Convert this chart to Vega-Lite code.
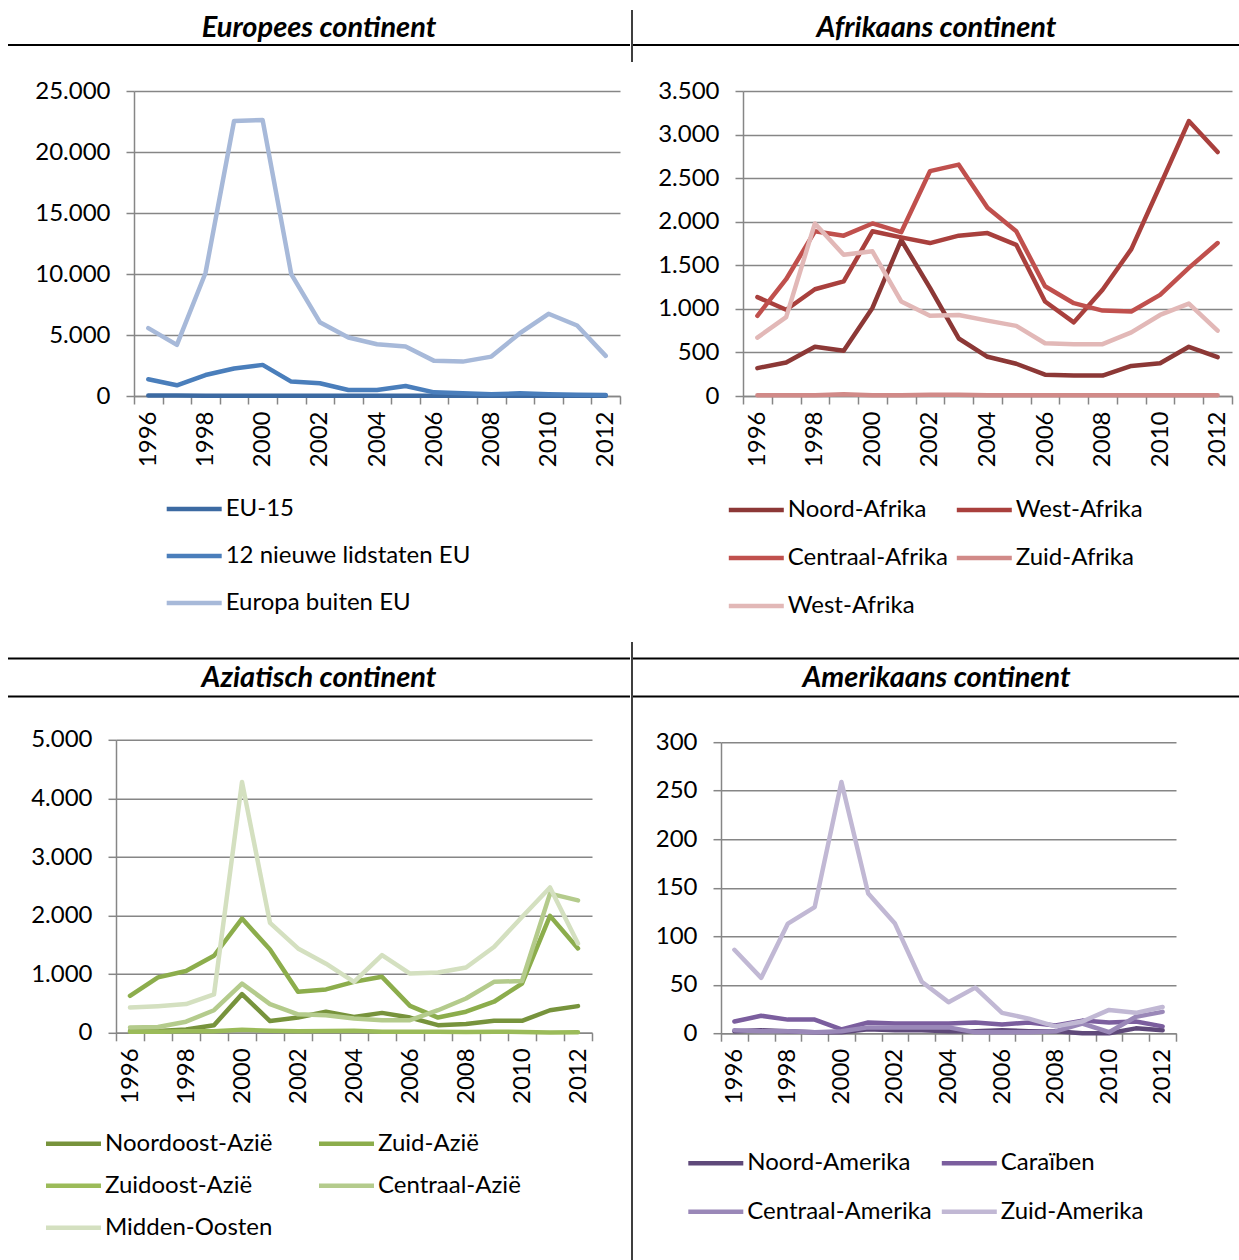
{
  "$schema": "https://vega.github.io/schema/vega-lite/v6.json",
  "padding": {"left": 7, "top": 9, "right": 0, "bottom": 0},
  "config": {
    "view": {"stroke": null},
    "font": "Lato",
    "locale": {"number": {"decimal": ",", "thousands": ".", "grouping": [3], "currency": ["€", ""]}},
    "axis": {"labelFont": "Lato", "labelFontSize": 24, "labelColor": "#000000", "domainColor": "#868686", "domainWidth": 1.5, "tickColor": "#868686", "tickWidth": 1.5, "tickSize": 8, "gridColor": "#868686", "gridWidth": 1.5, "title": null},
    "legend": {"labelFont": "Lato", "labelFontSize": 24, "labelColor": "#000000", "labelLimit": 600, "symbolType": "stroke", "symbolSize": 3025, "symbolStrokeWidth": 5, "labelOffset": 1.5, "padding": 0, "title": null, "direction": "horizontal"},
    "line": {"strokeWidth": 4.5, "strokeCap": "round", "strokeJoin": "round"}
  },
  "datasets": {
    "eu": [
      {"jaar": 1996, "reeks": "EU-15", "waarde": 40}, {"jaar": 1997, "reeks": "EU-15", "waarde": 35}, {"jaar": 1998, "reeks": "EU-15", "waarde": 30}, {"jaar": 1999, "reeks": "EU-15", "waarde": 30}, {"jaar": 2000, "reeks": "EU-15", "waarde": 30}, {"jaar": 2001, "reeks": "EU-15", "waarde": 25}, {"jaar": 2002, "reeks": "EU-15", "waarde": 25}, {"jaar": 2003, "reeks": "EU-15", "waarde": 25}, {"jaar": 2004, "reeks": "EU-15", "waarde": 25}, {"jaar": 2005, "reeks": "EU-15", "waarde": 25}, {"jaar": 2006, "reeks": "EU-15", "waarde": 25}, {"jaar": 2007, "reeks": "EU-15", "waarde": 20}, {"jaar": 2008, "reeks": "EU-15", "waarde": 20}, {"jaar": 2009, "reeks": "EU-15", "waarde": 20}, {"jaar": 2010, "reeks": "EU-15", "waarde": 20}, {"jaar": 2011, "reeks": "EU-15", "waarde": 20}, {"jaar": 2012, "reeks": "EU-15", "waarde": 20},
      {"jaar": 1996, "reeks": "12 nieuwe lidstaten EU", "waarde": 1370}, {"jaar": 1997, "reeks": "12 nieuwe lidstaten EU", "waarde": 880}, {"jaar": 1998, "reeks": "12 nieuwe lidstaten EU", "waarde": 1720}, {"jaar": 1999, "reeks": "12 nieuwe lidstaten EU", "waarde": 2250}, {"jaar": 2000, "reeks": "12 nieuwe lidstaten EU", "waarde": 2550}, {"jaar": 2001, "reeks": "12 nieuwe lidstaten EU", "waarde": 1180}, {"jaar": 2002, "reeks": "12 nieuwe lidstaten EU", "waarde": 1040}, {"jaar": 2003, "reeks": "12 nieuwe lidstaten EU", "waarde": 490}, {"jaar": 2004, "reeks": "12 nieuwe lidstaten EU", "waarde": 490}, {"jaar": 2005, "reeks": "12 nieuwe lidstaten EU", "waarde": 820}, {"jaar": 2006, "reeks": "12 nieuwe lidstaten EU", "waarde": 300}, {"jaar": 2007, "reeks": "12 nieuwe lidstaten EU", "waarde": 220}, {"jaar": 2008, "reeks": "12 nieuwe lidstaten EU", "waarde": 140}, {"jaar": 2009, "reeks": "12 nieuwe lidstaten EU", "waarde": 220}, {"jaar": 2010, "reeks": "12 nieuwe lidstaten EU", "waarde": 140}, {"jaar": 2011, "reeks": "12 nieuwe lidstaten EU", "waarde": 110}, {"jaar": 2012, "reeks": "12 nieuwe lidstaten EU", "waarde": 80},
      {"jaar": 1996, "reeks": "Europa buiten EU", "waarde": 5560}, {"jaar": 1997, "reeks": "Europa buiten EU", "waarde": 4190}, {"jaar": 1998, "reeks": "Europa buiten EU", "waarde": 10080}, {"jaar": 1999, "reeks": "Europa buiten EU", "waarde": 22540}, {"jaar": 2000, "reeks": "Europa buiten EU", "waarde": 22620}, {"jaar": 2001, "reeks": "Europa buiten EU", "waarde": 9990}, {"jaar": 2002, "reeks": "Europa buiten EU", "waarde": 6050}, {"jaar": 2003, "reeks": "Europa buiten EU", "waarde": 4790}, {"jaar": 2004, "reeks": "Europa buiten EU", "waarde": 4240}, {"jaar": 2005, "reeks": "Europa buiten EU", "waarde": 4050}, {"jaar": 2006, "reeks": "Europa buiten EU", "waarde": 2880}, {"jaar": 2007, "reeks": "Europa buiten EU", "waarde": 2820}, {"jaar": 2008, "reeks": "Europa buiten EU", "waarde": 3230}, {"jaar": 2009, "reeks": "Europa buiten EU", "waarde": 5150}, {"jaar": 2010, "reeks": "Europa buiten EU", "waarde": 6740}, {"jaar": 2011, "reeks": "Europa buiten EU", "waarde": 5780}, {"jaar": 2012, "reeks": "Europa buiten EU", "waarde": 3290}
    ],
    "af": [
      {"jaar": 1996, "reeks": "Noord-Afrika", "waarde": 320}, {"jaar": 1997, "reeks": "Noord-Afrika", "waarde": 385}, {"jaar": 1998, "reeks": "Noord-Afrika", "waarde": 565}, {"jaar": 1999, "reeks": "Noord-Afrika", "waarde": 520}, {"jaar": 2000, "reeks": "Noord-Afrika", "waarde": 1010}, {"jaar": 2001, "reeks": "Noord-Afrika", "waarde": 1790}, {"jaar": 2002, "reeks": "Noord-Afrika", "waarde": 1240}, {"jaar": 2003, "reeks": "Noord-Afrika", "waarde": 660}, {"jaar": 2004, "reeks": "Noord-Afrika", "waarde": 450}, {"jaar": 2005, "reeks": "Noord-Afrika", "waarde": 370}, {"jaar": 2006, "reeks": "Noord-Afrika", "waarde": 245}, {"jaar": 2007, "reeks": "Noord-Afrika", "waarde": 235}, {"jaar": 2008, "reeks": "Noord-Afrika", "waarde": 235}, {"jaar": 2009, "reeks": "Noord-Afrika", "waarde": 345}, {"jaar": 2010, "reeks": "Noord-Afrika", "waarde": 375}, {"jaar": 2011, "reeks": "Noord-Afrika", "waarde": 565}, {"jaar": 2012, "reeks": "Noord-Afrika", "waarde": 445},
      {"jaar": 1996, "reeks": "West-Afrika", "waarde": 1135}, {"jaar": 1997, "reeks": "West-Afrika", "waarde": 990}, {"jaar": 1998, "reeks": "West-Afrika", "waarde": 1225}, {"jaar": 1999, "reeks": "West-Afrika", "waarde": 1315}, {"jaar": 2000, "reeks": "West-Afrika", "waarde": 1890}, {"jaar": 2001, "reeks": "West-Afrika", "waarde": 1820}, {"jaar": 2002, "reeks": "West-Afrika", "waarde": 1755}, {"jaar": 2003, "reeks": "West-Afrika", "waarde": 1840}, {"jaar": 2004, "reeks": "West-Afrika", "waarde": 1870}, {"jaar": 2005, "reeks": "West-Afrika", "waarde": 1735}, {"jaar": 2006, "reeks": "West-Afrika", "waarde": 1085}, {"jaar": 2007, "reeks": "West-Afrika", "waarde": 845}, {"jaar": 2008, "reeks": "West-Afrika", "waarde": 1220}, {"jaar": 2009, "reeks": "West-Afrika", "waarde": 1685}, {"jaar": 2010, "reeks": "West-Afrika", "waarde": 2415}, {"jaar": 2011, "reeks": "West-Afrika", "waarde": 3155}, {"jaar": 2012, "reeks": "West-Afrika", "waarde": 2800},
      {"jaar": 1996, "reeks": "Centraal-Afrika", "waarde": 920}, {"jaar": 1997, "reeks": "Centraal-Afrika", "waarde": 1340}, {"jaar": 1998, "reeks": "Centraal-Afrika", "waarde": 1890}, {"jaar": 1999, "reeks": "Centraal-Afrika", "waarde": 1840}, {"jaar": 2000, "reeks": "Centraal-Afrika", "waarde": 1980}, {"jaar": 2001, "reeks": "Centraal-Afrika", "waarde": 1880}, {"jaar": 2002, "reeks": "Centraal-Afrika", "waarde": 2580}, {"jaar": 2003, "reeks": "Centraal-Afrika", "waarde": 2655}, {"jaar": 2004, "reeks": "Centraal-Afrika", "waarde": 2160}, {"jaar": 2005, "reeks": "Centraal-Afrika", "waarde": 1890}, {"jaar": 2006, "reeks": "Centraal-Afrika", "waarde": 1260}, {"jaar": 2007, "reeks": "Centraal-Afrika", "waarde": 1065}, {"jaar": 2008, "reeks": "Centraal-Afrika", "waarde": 980}, {"jaar": 2009, "reeks": "Centraal-Afrika", "waarde": 970}, {"jaar": 2010, "reeks": "Centraal-Afrika", "waarde": 1160}, {"jaar": 2011, "reeks": "Centraal-Afrika", "waarde": 1470}, {"jaar": 2012, "reeks": "Centraal-Afrika", "waarde": 1755},
      {"jaar": 1996, "reeks": "Zuid-Afrika", "waarde": 10}, {"jaar": 1997, "reeks": "Zuid-Afrika", "waarde": 10}, {"jaar": 1998, "reeks": "Zuid-Afrika", "waarde": 10}, {"jaar": 1999, "reeks": "Zuid-Afrika", "waarde": 20}, {"jaar": 2000, "reeks": "Zuid-Afrika", "waarde": 10}, {"jaar": 2001, "reeks": "Zuid-Afrika", "waarde": 10}, {"jaar": 2002, "reeks": "Zuid-Afrika", "waarde": 15}, {"jaar": 2003, "reeks": "Zuid-Afrika", "waarde": 15}, {"jaar": 2004, "reeks": "Zuid-Afrika", "waarde": 10}, {"jaar": 2005, "reeks": "Zuid-Afrika", "waarde": 10}, {"jaar": 2006, "reeks": "Zuid-Afrika", "waarde": 10}, {"jaar": 2007, "reeks": "Zuid-Afrika", "waarde": 10}, {"jaar": 2008, "reeks": "Zuid-Afrika", "waarde": 10}, {"jaar": 2009, "reeks": "Zuid-Afrika", "waarde": 10}, {"jaar": 2010, "reeks": "Zuid-Afrika", "waarde": 10}, {"jaar": 2011, "reeks": "Zuid-Afrika", "waarde": 10}, {"jaar": 2012, "reeks": "Zuid-Afrika", "waarde": 10},
      {"jaar": 1996, "reeks": "West-Afrika (2)", "waarde": 670}, {"jaar": 1997, "reeks": "West-Afrika (2)", "waarde": 905}, {"jaar": 1998, "reeks": "West-Afrika (2)", "waarde": 1980}, {"jaar": 1999, "reeks": "West-Afrika (2)", "waarde": 1620}, {"jaar": 2000, "reeks": "West-Afrika (2)", "waarde": 1660}, {"jaar": 2001, "reeks": "West-Afrika (2)", "waarde": 1085}, {"jaar": 2002, "reeks": "West-Afrika (2)", "waarde": 920}, {"jaar": 2003, "reeks": "West-Afrika (2)", "waarde": 930}, {"jaar": 2004, "reeks": "West-Afrika (2)", "waarde": 865}, {"jaar": 2005, "reeks": "West-Afrika (2)", "waarde": 805}, {"jaar": 2006, "reeks": "West-Afrika (2)", "waarde": 605}, {"jaar": 2007, "reeks": "West-Afrika (2)", "waarde": 595}, {"jaar": 2008, "reeks": "West-Afrika (2)", "waarde": 595}, {"jaar": 2009, "reeks": "West-Afrika (2)", "waarde": 730}, {"jaar": 2010, "reeks": "West-Afrika (2)", "waarde": 930}, {"jaar": 2011, "reeks": "West-Afrika (2)", "waarde": 1060}, {"jaar": 2012, "reeks": "West-Afrika (2)", "waarde": 750}
    ],
    "as": [
      {"jaar": 1996, "reeks": "Noordoost-Azië", "waarde": 30}, {"jaar": 1997, "reeks": "Noordoost-Azië", "waarde": 30}, {"jaar": 1998, "reeks": "Noordoost-Azië", "waarde": 55}, {"jaar": 1999, "reeks": "Noordoost-Azië", "waarde": 130}, {"jaar": 2000, "reeks": "Noordoost-Azië", "waarde": 660}, {"jaar": 2001, "reeks": "Noordoost-Azië", "waarde": 200}, {"jaar": 2002, "reeks": "Noordoost-Azië", "waarde": 260}, {"jaar": 2003, "reeks": "Noordoost-Azië", "waarde": 360}, {"jaar": 2004, "reeks": "Noordoost-Azië", "waarde": 270}, {"jaar": 2005, "reeks": "Noordoost-Azië", "waarde": 340}, {"jaar": 2006, "reeks": "Noordoost-Azië", "waarde": 260}, {"jaar": 2007, "reeks": "Noordoost-Azië", "waarde": 130}, {"jaar": 2008, "reeks": "Noordoost-Azië", "waarde": 150}, {"jaar": 2009, "reeks": "Noordoost-Azië", "waarde": 205}, {"jaar": 2010, "reeks": "Noordoost-Azië", "waarde": 205}, {"jaar": 2011, "reeks": "Noordoost-Azië", "waarde": 385}, {"jaar": 2012, "reeks": "Noordoost-Azië", "waarde": 455},
      {"jaar": 1996, "reeks": "Zuid-Azië", "waarde": 630}, {"jaar": 1997, "reeks": "Zuid-Azië", "waarde": 945}, {"jaar": 1998, "reeks": "Zuid-Azië", "waarde": 1055}, {"jaar": 1999, "reeks": "Zuid-Azië", "waarde": 1315}, {"jaar": 2000, "reeks": "Zuid-Azië", "waarde": 1950}, {"jaar": 2001, "reeks": "Zuid-Azië", "waarde": 1420}, {"jaar": 2002, "reeks": "Zuid-Azië", "waarde": 700}, {"jaar": 2003, "reeks": "Zuid-Azië", "waarde": 740}, {"jaar": 2004, "reeks": "Zuid-Azië", "waarde": 870}, {"jaar": 2005, "reeks": "Zuid-Azië", "waarde": 955}, {"jaar": 2006, "reeks": "Zuid-Azië", "waarde": 460}, {"jaar": 2007, "reeks": "Zuid-Azië", "waarde": 260}, {"jaar": 2008, "reeks": "Zuid-Azië", "waarde": 360}, {"jaar": 2009, "reeks": "Zuid-Azië", "waarde": 530}, {"jaar": 2010, "reeks": "Zuid-Azië", "waarde": 840}, {"jaar": 2011, "reeks": "Zuid-Azië", "waarde": 1995}, {"jaar": 2012, "reeks": "Zuid-Azië", "waarde": 1440},
      {"jaar": 1996, "reeks": "Zuidoost-Azië", "waarde": 20}, {"jaar": 1997, "reeks": "Zuidoost-Azië", "waarde": 20}, {"jaar": 1998, "reeks": "Zuidoost-Azië", "waarde": 25}, {"jaar": 1999, "reeks": "Zuidoost-Azië", "waarde": 25}, {"jaar": 2000, "reeks": "Zuidoost-Azië", "waarde": 50}, {"jaar": 2001, "reeks": "Zuidoost-Azië", "waarde": 35}, {"jaar": 2002, "reeks": "Zuidoost-Azië", "waarde": 25}, {"jaar": 2003, "reeks": "Zuidoost-Azië", "waarde": 30}, {"jaar": 2004, "reeks": "Zuidoost-Azië", "waarde": 35}, {"jaar": 2005, "reeks": "Zuidoost-Azië", "waarde": 20}, {"jaar": 2006, "reeks": "Zuidoost-Azië", "waarde": 20}, {"jaar": 2007, "reeks": "Zuidoost-Azië", "waarde": 20}, {"jaar": 2008, "reeks": "Zuidoost-Azië", "waarde": 15}, {"jaar": 2009, "reeks": "Zuidoost-Azië", "waarde": 20}, {"jaar": 2010, "reeks": "Zuidoost-Azië", "waarde": 15}, {"jaar": 2011, "reeks": "Zuidoost-Azië", "waarde": 5}, {"jaar": 2012, "reeks": "Zuidoost-Azië", "waarde": 10},
      {"jaar": 1996, "reeks": "Centraal-Azië", "waarde": 90}, {"jaar": 1997, "reeks": "Centraal-Azië", "waarde": 100}, {"jaar": 1998, "reeks": "Centraal-Azië", "waarde": 190}, {"jaar": 1999, "reeks": "Centraal-Azië", "waarde": 385}, {"jaar": 2000, "reeks": "Centraal-Azië", "waarde": 840}, {"jaar": 2001, "reeks": "Centraal-Azië", "waarde": 490}, {"jaar": 2002, "reeks": "Centraal-Azië", "waarde": 315}, {"jaar": 2003, "reeks": "Centraal-Azië", "waarde": 300}, {"jaar": 2004, "reeks": "Centraal-Azië", "waarde": 245}, {"jaar": 2005, "reeks": "Centraal-Azië", "waarde": 215}, {"jaar": 2006, "reeks": "Centraal-Azië", "waarde": 215}, {"jaar": 2007, "reeks": "Centraal-Azië", "waarde": 385}, {"jaar": 2008, "reeks": "Centraal-Azië", "waarde": 585}, {"jaar": 2009, "reeks": "Centraal-Azië", "waarde": 870}, {"jaar": 2010, "reeks": "Centraal-Azië", "waarde": 885}, {"jaar": 2011, "reeks": "Centraal-Azië", "waarde": 2375}, {"jaar": 2012, "reeks": "Centraal-Azië", "waarde": 2260},
      {"jaar": 1996, "reeks": "Midden-Oosten", "waarde": 430}, {"jaar": 1997, "reeks": "Midden-Oosten", "waarde": 455}, {"jaar": 1998, "reeks": "Midden-Oosten", "waarde": 490}, {"jaar": 1999, "reeks": "Midden-Oosten", "waarde": 655}, {"jaar": 2000, "reeks": "Midden-Oosten", "waarde": 4280}, {"jaar": 2001, "reeks": "Midden-Oosten", "waarde": 1875}, {"jaar": 2002, "reeks": "Midden-Oosten", "waarde": 1440}, {"jaar": 2003, "reeks": "Midden-Oosten", "waarde": 1180}, {"jaar": 2004, "reeks": "Midden-Oosten", "waarde": 870}, {"jaar": 2005, "reeks": "Midden-Oosten", "waarde": 1325}, {"jaar": 2006, "reeks": "Midden-Oosten", "waarde": 1010}, {"jaar": 2007, "reeks": "Midden-Oosten", "waarde": 1030}, {"jaar": 2008, "reeks": "Midden-Oosten", "waarde": 1115}, {"jaar": 2009, "reeks": "Midden-Oosten", "waarde": 1465}, {"jaar": 2010, "reeks": "Midden-Oosten", "waarde": 1975}, {"jaar": 2011, "reeks": "Midden-Oosten", "waarde": 2480}, {"jaar": 2012, "reeks": "Midden-Oosten", "waarde": 1525}
    ],
    "am": [
      {"jaar": 1996, "reeks": "Noord-Amerika", "waarde": 2}, {"jaar": 1997, "reeks": "Noord-Amerika", "waarde": 3}, {"jaar": 1998, "reeks": "Noord-Amerika", "waarde": 2}, {"jaar": 1999, "reeks": "Noord-Amerika", "waarde": 1}, {"jaar": 2000, "reeks": "Noord-Amerika", "waarde": 1}, {"jaar": 2001, "reeks": "Noord-Amerika", "waarde": 4}, {"jaar": 2002, "reeks": "Noord-Amerika", "waarde": 3}, {"jaar": 2003, "reeks": "Noord-Amerika", "waarde": 3}, {"jaar": 2004, "reeks": "Noord-Amerika", "waarde": 2}, {"jaar": 2005, "reeks": "Noord-Amerika", "waarde": 2}, {"jaar": 2006, "reeks": "Noord-Amerika", "waarde": 3}, {"jaar": 2007, "reeks": "Noord-Amerika", "waarde": 2}, {"jaar": 2008, "reeks": "Noord-Amerika", "waarde": 2}, {"jaar": 2009, "reeks": "Noord-Amerika", "waarde": 0}, {"jaar": 2010, "reeks": "Noord-Amerika", "waarde": 0}, {"jaar": 2011, "reeks": "Noord-Amerika", "waarde": 5}, {"jaar": 2012, "reeks": "Noord-Amerika", "waarde": 3},
      {"jaar": 1996, "reeks": "Caraïben", "waarde": 12}, {"jaar": 1997, "reeks": "Caraïben", "waarde": 18}, {"jaar": 1998, "reeks": "Caraïben", "waarde": 14}, {"jaar": 1999, "reeks": "Caraïben", "waarde": 14}, {"jaar": 2000, "reeks": "Caraïben", "waarde": 4}, {"jaar": 2001, "reeks": "Caraïben", "waarde": 11}, {"jaar": 2002, "reeks": "Caraïben", "waarde": 10}, {"jaar": 2003, "reeks": "Caraïben", "waarde": 10}, {"jaar": 2004, "reeks": "Caraïben", "waarde": 10}, {"jaar": 2005, "reeks": "Caraïben", "waarde": 11}, {"jaar": 2006, "reeks": "Caraïben", "waarde": 9}, {"jaar": 2007, "reeks": "Caraïben", "waarde": 11}, {"jaar": 2008, "reeks": "Caraïben", "waarde": 8}, {"jaar": 2009, "reeks": "Caraïben", "waarde": 13}, {"jaar": 2010, "reeks": "Caraïben", "waarde": 11}, {"jaar": 2011, "reeks": "Caraïben", "waarde": 12}, {"jaar": 2012, "reeks": "Caraïben", "waarde": 7},
      {"jaar": 1996, "reeks": "Centraal-Amerika", "waarde": 3}, {"jaar": 1997, "reeks": "Centraal-Amerika", "waarde": 2}, {"jaar": 1998, "reeks": "Centraal-Amerika", "waarde": 2}, {"jaar": 1999, "reeks": "Centraal-Amerika", "waarde": 1}, {"jaar": 2000, "reeks": "Centraal-Amerika", "waarde": 2}, {"jaar": 2001, "reeks": "Centraal-Amerika", "waarde": 6}, {"jaar": 2002, "reeks": "Centraal-Amerika", "waarde": 6}, {"jaar": 2003, "reeks": "Centraal-Amerika", "waarde": 6}, {"jaar": 2004, "reeks": "Centraal-Amerika", "waarde": 6}, {"jaar": 2005, "reeks": "Centraal-Amerika", "waarde": 1}, {"jaar": 2006, "reeks": "Centraal-Amerika", "waarde": 1}, {"jaar": 2007, "reeks": "Centraal-Amerika", "waarde": 1}, {"jaar": 2008, "reeks": "Centraal-Amerika", "waarde": 2}, {"jaar": 2009, "reeks": "Centraal-Amerika", "waarde": 10}, {"jaar": 2010, "reeks": "Centraal-Amerika", "waarde": 1}, {"jaar": 2011, "reeks": "Centraal-Amerika", "waarde": 17}, {"jaar": 2012, "reeks": "Centraal-Amerika", "waarde": 22},
      {"jaar": 1996, "reeks": "Zuid-Amerika", "waarde": 86}, {"jaar": 1997, "reeks": "Zuid-Amerika", "waarde": 57}, {"jaar": 1998, "reeks": "Zuid-Amerika", "waarde": 113}, {"jaar": 1999, "reeks": "Zuid-Amerika", "waarde": 130}, {"jaar": 2000, "reeks": "Zuid-Amerika", "waarde": 259}, {"jaar": 2001, "reeks": "Zuid-Amerika", "waarde": 144}, {"jaar": 2002, "reeks": "Zuid-Amerika", "waarde": 113}, {"jaar": 2003, "reeks": "Zuid-Amerika", "waarde": 53}, {"jaar": 2004, "reeks": "Zuid-Amerika", "waarde": 32}, {"jaar": 2005, "reeks": "Zuid-Amerika", "waarde": 47}, {"jaar": 2006, "reeks": "Zuid-Amerika", "waarde": 21}, {"jaar": 2007, "reeks": "Zuid-Amerika", "waarde": 15}, {"jaar": 2008, "reeks": "Zuid-Amerika", "waarde": 7}, {"jaar": 2009, "reeks": "Zuid-Amerika", "waarde": 12}, {"jaar": 2010, "reeks": "Zuid-Amerika", "waarde": 24}, {"jaar": 2011, "reeks": "Zuid-Amerika", "waarde": 21}, {"jaar": 2012, "reeks": "Zuid-Amerika", "waarde": 27}
    ]
  },
  "resolve": {"scale": {"color": "independent", "x": "independent", "y": "independent"}, "legend": {"color": "independent"}},
  "spacing": -1,
  "hconcat": [
    {
      "spacing": 42.5,
      "resolve": {"scale": {"color": "independent", "x": "independent", "y": "independent"}, "legend": {"color": "independent"}},
      "vconcat": [
        {
          "spacing": 33,
          "resolve": {"scale": {"color": "independent", "x": "independent", "y": "independent"}, "legend": {"color": "independent"}},
          "vconcat": [
            {
              "width": 622, "height": 35,
              "view": {"stroke": "#000000", "strokeWidth": 2, "strokeDash": [0, 657, 622, 35]},
              "data": {"values": [{"titel": "Europees continent"}]},
              "mark": {"type": "text", "font": "Lato", "fontSize": 29, "fontWeight": "bold", "fontStyle": "italic", "color": "#000000"},
              "encoding": {"text": {"field": "titel"}}
            },
            {
              "spacing": 0,
              "resolve": {"scale": {"color": "independent", "x": "independent", "y": "independent"}, "legend": {"color": "independent"}},
              "hconcat": [
                {"width": 26, "height": 1, "data": {"values": [{"t": ""}]}, "mark": {"type": "text"}, "encoding": {"text": {"field": "t"}}},
                {
                  "width": 486, "height": 305,
                  "data": {"name": "eu"},
                  "mark": {"type": "line"},
                  "encoding": {
                    "x": {"field": "jaar", "type": "ordinal", "bandPosition": 0.5, "scale": {"type": "band", "paddingInner": 0, "paddingOuter": 0},
                          "axis": {"labelAngle": -90, "tickBand": "extent", "labelExpr": "datum.value % 2 == 0 ? datum.label : ''", "labelPadding": 7, "grid": false}},
                    "y": {"field": "waarde", "type": "quantitative", "scale": {"domain": [0, 25000], "nice": false},
                          "axis": {"values": [0, 5000, 10000, 15000, 20000, 25000], "format": ",d", "minExtent": 100, "labelPadding": 16, "grid": true}},
                    "color": {"field": "reeks", "type": "nominal", "sort": null,
                              "scale": {"domain": ["EU-15", "12 nieuwe lidstaten EU", "Europa buiten EU"], "range": ["#3C6AA2", "#4A7EBB", "#A7B9D9"]},
                              "legend": {"orient": "none", "legendX": 30.2, "legendY": 388, "columns": 1, "rowPadding": 5}}
                  }
                }
              ]
            }
          ]
        },
        {
          "spacing": 30.3,
          "resolve": {"scale": {"color": "independent", "x": "independent", "y": "independent"}, "legend": {"color": "independent"}},
          "vconcat": [
            {
              "width": 622, "height": 38,
              "view": {"stroke": "#000000", "strokeWidth": 2, "strokeDash": [622, 38, 622, 38]},
              "data": {"values": [{"titel": "Aziatisch continent"}]},
              "mark": {"type": "text", "font": "Lato", "fontSize": 29, "fontWeight": "bold", "fontStyle": "italic", "color": "#000000"},
              "encoding": {"text": {"field": "titel"}}
            },
            {
              "spacing": 0,
              "resolve": {"scale": {"color": "independent", "x": "independent", "y": "independent"}, "legend": {"color": "independent"}},
              "hconcat": [
                {"width": 18, "height": 1, "data": {"values": [{"t": ""}]}, "mark": {"type": "text"}, "encoding": {"text": {"field": "t"}}},
                {
                  "width": 476, "height": 293,
                  "data": {"name": "as"},
                  "mark": {"type": "line"},
                  "encoding": {
                    "x": {"field": "jaar", "type": "ordinal", "bandPosition": 0.5, "scale": {"type": "band", "paddingInner": 0, "paddingOuter": 0},
                          "axis": {"labelAngle": -90, "tickBand": "extent", "labelExpr": "datum.value % 2 == 0 ? datum.label : ''", "labelPadding": 7, "grid": false}},
                    "y": {"field": "waarde", "type": "quantitative", "scale": {"domain": [0, 5000], "nice": false},
                          "axis": {"values": [0, 1000, 2000, 3000, 4000, 5000], "format": ",d", "minExtent": 90, "labelPadding": 16, "grid": true}},
                    "color": {"field": "reeks", "type": "nominal", "sort": null,
                              "scale": {"domain": ["Noordoost-Azië", "Zuid-Azië", "Zuidoost-Azië", "Centraal-Azië", "Midden-Oosten"], "range": ["#77933C", "#8CAD4C", "#9BBB59", "#B4CB8C", "#D4E0C0"]},
                              "legend": {"orient": "none", "legendX": -72.5, "legendY": 374, "columns": 2, "rowPadding": 0, "columnPadding": 43}}
                  }
                }
              ]
            }
          ]
        }
      ]
    },
    {
      "width": 1, "height": 1250,
      "view": {"stroke": "#000000", "strokeWidth": 1.5, "strokeDash": [0, 1, 52, 580, 618, 1251]},
      "data": {"values": [{"titel": ""}]},
      "mark": {"type": "text"},
      "encoding": {"text": {"field": "titel"}}
    },
    {
      "spacing": 39.5,
      "resolve": {"scale": {"color": "independent", "x": "independent", "y": "independent"}, "legend": {"color": "independent"}},
      "vconcat": [
        {
          "spacing": 33,
          "resolve": {"scale": {"color": "independent", "x": "independent", "y": "independent"}, "legend": {"color": "independent"}},
          "vconcat": [
            {
              "width": 607, "height": 35,
              "view": {"stroke": "#000000", "strokeWidth": 2, "strokeDash": [0, 642, 607, 35]},
              "data": {"values": [{"titel": "Afrikaans continent"}]},
              "mark": {"type": "text", "font": "Lato", "fontSize": 29, "fontWeight": "bold", "fontStyle": "italic", "color": "#000000"},
              "encoding": {"text": {"field": "titel"}}
            },
            {
              "spacing": 0,
              "resolve": {"scale": {"color": "independent", "x": "independent", "y": "independent"}, "legend": {"color": "independent"}},
              "hconcat": [
                {"width": 20, "height": 1, "data": {"values": [{"t": ""}]}, "mark": {"type": "text"}, "encoding": {"text": {"field": "t"}}},
                {
                  "width": 489, "height": 305,
                  "data": {"name": "af"},
                  "mark": {"type": "line"},
                  "encoding": {
                    "x": {"field": "jaar", "type": "ordinal", "bandPosition": 0.5, "scale": {"type": "band", "paddingInner": 0, "paddingOuter": 0},
                          "axis": {"labelAngle": -90, "tickBand": "extent", "labelExpr": "datum.value % 2 == 0 ? datum.label : ''", "labelPadding": 7, "grid": false}},
                    "y": {"field": "waarde", "type": "quantitative", "scale": {"domain": [0, 3500], "nice": false},
                          "axis": {"values": [0, 500, 1000, 1500, 2000, 2500, 3000, 3500], "format": ",d", "minExtent": 90, "labelPadding": 16, "grid": true}},
                    "color": {"field": "reeks", "type": "nominal", "sort": null,
                              "scale": {"domain": ["Noord-Afrika", "West-Afrika", "Centraal-Afrika", "Zuid-Afrika", "West-Afrika (2)"], "range": ["#8C3836", "#A9403D", "#C0504D", "#D18A88", "#E2B8B7"]},
                              "legend": {"orient": "none", "legendX": -16.7, "legendY": 389, "columns": 2, "rowPadding": 6, "columnPadding": 6, "labelExpr": "replace(datum.label, ' (2)', '')"}}
                  }
                }
              ]
            }
          ]
        },
        {
          "spacing": 32.7,
          "resolve": {"scale": {"color": "independent", "x": "independent", "y": "independent"}, "legend": {"color": "independent"}},
          "vconcat": [
            {
              "width": 607, "height": 38,
              "view": {"stroke": "#000000", "strokeWidth": 2, "strokeDash": [607, 38, 607, 38]},
              "data": {"values": [{"titel": "Amerikaans continent"}]},
              "mark": {"type": "text", "font": "Lato", "fontSize": 29, "fontWeight": "bold", "fontStyle": "italic", "color": "#000000"},
              "encoding": {"text": {"field": "titel"}}
            },
            {
              "spacing": 0,
              "resolve": {"scale": {"color": "independent", "x": "independent", "y": "independent"}, "legend": {"color": "independent"}},
              "hconcat": [
                {"width": 17.5, "height": 1, "data": {"values": [{"t": ""}]}, "mark": {"type": "text"}, "encoding": {"text": {"field": "t"}}},
                {
                  "width": 455, "height": 291,
                  "data": {"name": "am"},
                  "mark": {"type": "line"},
                  "encoding": {
                    "x": {"field": "jaar", "type": "ordinal", "bandPosition": 0.5, "scale": {"type": "band", "paddingInner": 0, "paddingOuter": 0},
                          "axis": {"labelAngle": -90, "tickBand": "extent", "labelExpr": "datum.value % 2 == 0 ? datum.label : ''", "labelPadding": 7, "grid": false}},
                    "y": {"field": "waarde", "type": "quantitative", "scale": {"domain": [0, 300], "nice": false},
                          "axis": {"values": [0, 50, 100, 150, 200, 250, 300], "format": ",d", "minExtent": 70, "labelPadding": 16, "grid": true}},
                    "color": {"field": "reeks", "type": "nominal", "sort": null,
                              "scale": {"domain": ["Noord-Amerika", "Caraïben", "Centraal-Amerika", "Zuid-Amerika"], "range": ["#5F497A", "#7B5E9E", "#9A88B8", "#C1B8D4"]},
                              "legend": {"orient": "none", "legendX": -35.2, "legendY": 391, "columns": 2, "rowPadding": 6.5, "columnPadding": 6.5}}
                  }
                }
              ]
            }
          ]
        }
      ]
    }
  ]
}
